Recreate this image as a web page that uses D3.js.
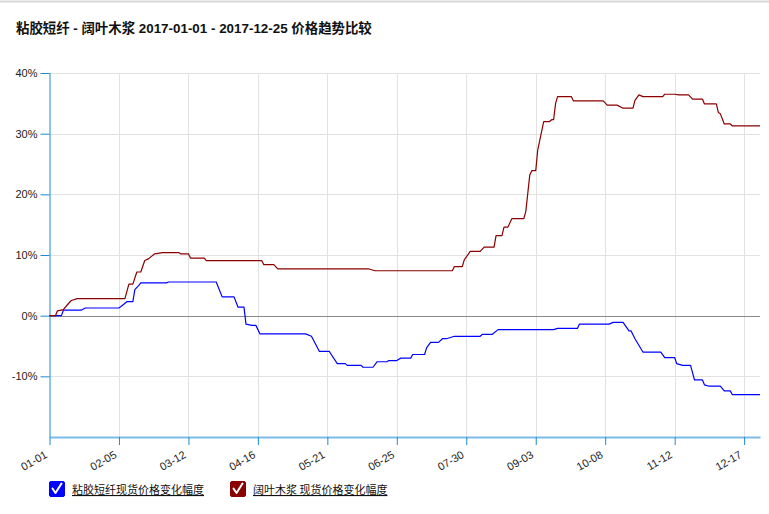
<!DOCTYPE html>
<html><head><meta charset="utf-8">
<script src="https://cdn.jsdelivr.net/npm/d3@7"></script>
<style>
body{margin:0;background:#fff;}
svg{display:block;font-family:"Liberation Sans",Arial,"Noto Sans CJK SC",sans-serif;}
</style></head><body>
<svg id="chart" width="769" height="514"></svg>
<script>
const title = "粘胶短纤 - 阔叶木浆 2017-01-01 - 2017-12-25 价格趋势比较";
const seriesNames = ["粘胶短纤现货价格变化幅度", "阔叶木浆 现货价格变化幅度"];
const seriesColors = ["#0000ff", "#8b0000"];
const xTicks = ["2017-01-01","2017-02-05","2017-03-12","2017-04-16","2017-05-21","2017-06-25","2017-07-30","2017-09-03","2017-10-08","2017-11-12","2017-12-17"];
const yTicks = [-10, 0, 10, 20, 30, 40];
const xDomain = ["2017-01-01", "2017-12-25"];
const yDomain = [-20, 40];

const blueDates = ["01-01","01-07","01-08","01-17","01-19","02-05","02-06","02-09","02-12","02-13","02-15","02-16","03-01","03-02","03-26","03-29","04-04","04-06","04-09","04-10","04-13","04-15","04-17","05-10","05-13","05-17","05-22","05-26","05-30","05-31","06-07","06-08","06-13","06-15","06-20","06-21","06-25","06-27","07-02","07-03","07-09","07-10","07-12","07-16","07-18","07-20","07-24","08-06","08-07","08-12","08-15","09-12","09-14","09-24","09-25","10-10","10-12","10-17","10-20","10-21","10-23","10-27","11-05","11-07","11-12","11-13","11-16","11-20","11-21","11-22","11-26","11-27","11-29","12-05","12-07","12-10","12-11","12-25"];
const blueValues = [0,0,0.9,0.9,1.26,1.26,1.5,2.3,2.3,4.3,5.0,5.4,5.4,5.55,5.55,3.1,3.1,1.4,1.4,-1.4,-1.6,-1.6,-3.0,-3.0,-3.4,-5.9,-5.9,-7.9,-7.9,-8.2,-8.2,-8.5,-8.5,-7.6,-7.6,-7.4,-7.4,-7.0,-7.0,-6.4,-6.4,-5.3,-4.4,-4.4,-3.8,-3.8,-3.4,-3.4,-3.1,-3.1,-2.3,-2.3,-2.1,-2.1,-1.4,-1.4,-1.1,-1.1,-2.5,-2.5,-3.8,-6.0,-6.0,-6.9,-6.9,-7.9,-8.2,-8.2,-9.4,-10.6,-10.6,-11.4,-11.6,-11.6,-12.4,-12.4,-13.0,-13.0];

const redDates = ["01-01","01-04","01-05","01-08","01-10","01-12","01-15","02-08","02-10","02-12","02-14","02-16","02-18","02-20","02-23","02-27","03-07","03-08","03-12","03-13","03-20","03-21","04-18","04-19","04-24","04-26","06-11","06-14","07-23","07-24","07-28","07-29","08-01","08-06","08-08","08-13","08-14","08-17","08-18","08-20","08-22","08-28","08-29","08-30","08-31","09-01","09-03","09-04","09-06","09-07","09-10","09-11","09-12","09-13","09-14","09-21","09-22","10-07","10-09","10-14","10-17","10-22","10-23","10-25","10-27","11-06","11-07","11-12","11-14","11-19","11-21","11-26","11-27","12-03","12-04","12-05","12-07","12-10","12-11","12-25"];
const redValues = [0,0,0.8,1.0,1.8,2.5,2.8,2.8,5.2,5.2,7.2,7.2,9.1,9.4,10.2,10.4,10.4,10.2,10.2,9.5,9.5,9.06,9.06,8.4,8.4,7.7,7.7,7.4,7.4,8.1,8.1,9.2,10.6,10.6,11.3,11.3,13.2,13.2,14.6,14.6,16.0,16.0,17.2,20.2,23.2,23.9,23.9,27.3,30.4,32.0,32.0,32.3,32.3,35.0,36.1,36.1,35.4,35.4,34.7,34.7,34.2,34.2,35.5,36.4,36.1,36.1,36.5,36.5,36.4,36.4,35.7,35.7,34.9,34.9,33.5,33.3,31.6,31.6,31.3,31.3];

(function () {
const parse = d3.timeParse("%Y-%m-%d");
const svg = d3.select("#chart");
const W = 769;
const pL = 49.5, pR = 760, pT = 73, pB = 437;

const x = d3.scaleTime().domain(xDomain.map(parse)).range([pL, pR]);
const y = d3.scaleLinear().domain(yDomain).range([pB, pT]);

// top border
svg.append("line").attr("x1", 0).attr("x2", W).attr("y1", 1.5).attr("y2", 1.5)
  .attr("stroke", "#d8d8d8").attr("stroke-width", 2);

// title
svg.append("text").attr("x", 16).attr("y", 33).attr("font-size", 13.4).attr("font-weight", "bold")
  .attr("fill", "#111").text(title);

// grid
const g = svg.append("g");
g.selectAll(".vg").data(xTicks.slice(1)).join("line")
  .attr("x1", d => Math.round(x(parse(d))) + 0.5).attr("x2", d => Math.round(x(parse(d))) + 0.5)
  .attr("y1", pT).attr("y2", pB).attr("stroke", "#e2e2e2");
g.selectAll(".hg").data(yTicks.filter(v => v !== 0)).join("line")
  .attr("x1", pL).attr("x2", pR)
  .attr("y1", d => Math.round(y(d)) + 0.5).attr("y2", d => Math.round(y(d)) + 0.5)
  .attr("stroke", "#e2e2e2");
g.append("line").attr("x1", pL).attr("x2", pR)
  .attr("y1", Math.round(y(0)) + 0.5).attr("y2", Math.round(y(0)) + 0.5)
  .attr("stroke", "#8a8a8a");

// y axis
const yAxis = d3.axisLeft(y).tickValues(yTicks).tickSize(9).tickPadding(3).tickFormat(d => d + "%");
const ya = svg.append("g").attr("transform", `translate(${pL},0)`).call(yAxis);
ya.select(".domain").attr("stroke", "#1a8bd3").attr("d", `M0.5,${pT}V${pB}`);
ya.selectAll(".tick line").attr("stroke", "#1a8bd3");
ya.selectAll(".tick text").attr("font-size", 11).attr("fill", "#222")
  .attr("font-family", "'Liberation Sans', Arial, sans-serif");

// x axis
const xAxis = d3.axisBottom(x).tickValues(xTicks.map(parse)).tickSize(8).tickSizeOuter(0)
  .tickFormat(d3.timeFormat("%m-%d"));
const xa = svg.append("g").attr("transform", `translate(0,${pB})`).call(xAxis);
xa.select(".domain").attr("stroke", "#7dbce6").attr("stroke-width", 2);
xa.selectAll(".tick line").attr("stroke", "#1a8bd3");
xa.selectAll(".tick text").attr("font-size", 11).attr("fill", "#222")
  .attr("font-family", "'Liberation Sans', Arial, sans-serif")
  .attr("text-anchor", "end").attr("dy", null)
  .attr("transform", "translate(-2,20) rotate(-30)").attr("y", 0).attr("x", 0);

// lines
const line = d3.line().x(d => x(d[0])).y(d => y(d[1]));
const series = [
  { dates: blueDates, values: blueValues, color: seriesColors[0] },
  { dates: redDates, values: redValues, color: seriesColors[1] }
];
series.forEach(s => {
  const pts = s.dates.map((d, i) => [parse("2017-" + d), s.values[i]]);
  svg.append("path").datum(pts).attr("d", line).attr("fill", "none")
    .attr("stroke", s.color).attr("stroke-width", 1.2).attr("stroke-linejoin", "round");
});

// legend
const legendX = [49, 230];
seriesNames.forEach((name, i) => {
  const lg = svg.append("g").attr("transform", `translate(${legendX[i]},481)`);
  lg.append("rect").attr("x", 0.5).attr("y", 0.5).attr("width", 15).attr("height", 15).attr("rx", 1.5)
    .attr("fill", seriesColors[i]).attr("stroke", seriesColors[i]);
  lg.append("path").attr("d", "M3.5,7.5 L6.5,12 L12.5,2.5").attr("fill", "none")
    .attr("stroke", "#fff").attr("stroke-width", 2).attr("stroke-linecap", "round").attr("stroke-linejoin", "round");
  lg.append("text").attr("x", 23).attr("y", 13).attr("font-size", 11).attr("fill", "#111")
    .attr("font-family", "'Noto Sans CJK SC', sans-serif")
    .style("text-decoration", "underline").text(name);
});
})();
</script>
</body></html>
